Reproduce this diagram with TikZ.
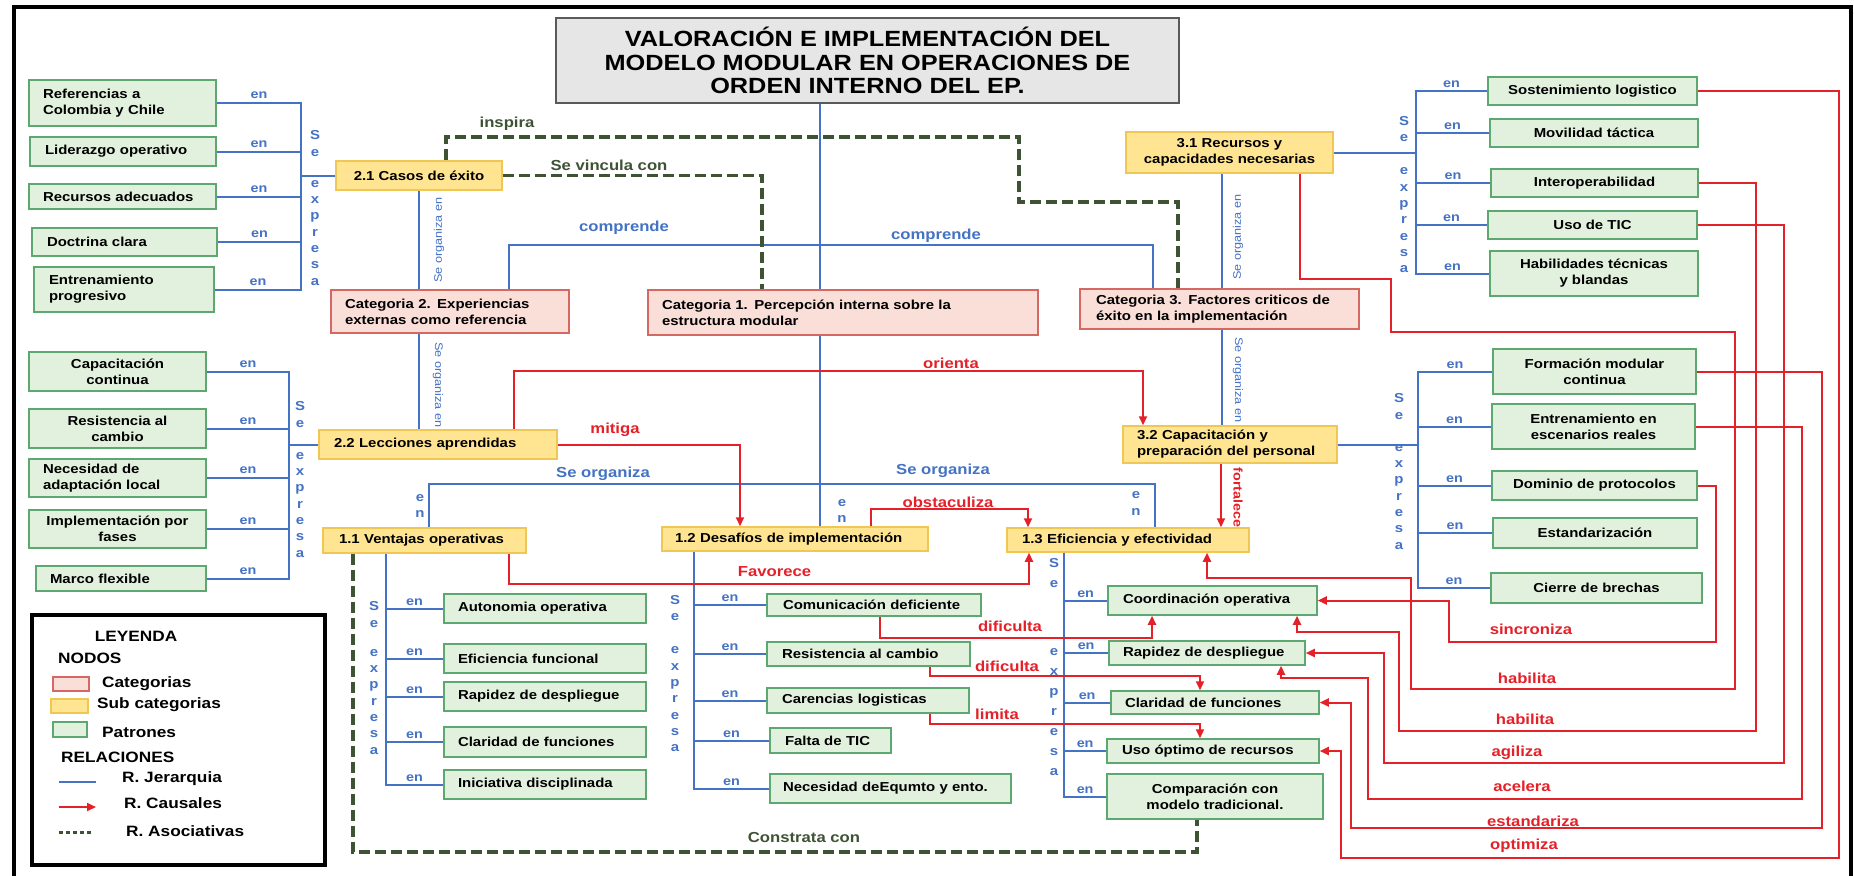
\documentclass[tikz,border=0pt]{standalone}
\usepackage{fontspec}
\setmainfont{Liberation Sans}[FakeStretch=1.15]
\usetikzlibrary{arrows.meta}

\definecolor{jerblue}{RGB}{68,114,196}
\definecolor{caured}{RGB}{228,32,40}
\definecolor{asogreen}{RGB}{62,82,52}
\definecolor{catfill}{RGB}{250,222,216}
\definecolor{catdraw}{RGB}{214,104,100}
\definecolor{subfill}{RGB}{255,229,145}
\definecolor{subdraw}{RGB}{240,198,85}
\definecolor{patfill}{RGB}{226,240,222}
\definecolor{patdraw}{RGB}{92,168,112}
\definecolor{titfill}{RGB}{231,230,230}
\definecolor{titdraw}{RGB}{90,90,90}

\tikzset{
  box/.style={rectangle, inner sep=0pt, line width=1.5pt, font=\fontsize{13}{16}\selectfont\bfseries},
  cat/.style={box, fill=catfill, draw=catdraw},
  sub/.style={box, fill=subfill, draw=subdraw},
  pat/.style={box, fill=patfill, draw=patdraw},
  title/.style={rectangle, inner sep=0pt, fill=titfill, draw=titdraw, line width=2.5pt, align=center, font=\fontsize{22}{23.5}\selectfont\bfseries},
  wh/.style 2 args={minimum width=#1pt, minimum height=#2pt},
  lt/.style={text width=#1pt, align=left},
  jer/.style={draw=jerblue, line width=2pt},
  cau/.style={draw=caured, line width=2pt, -{Triangle[length=9pt,width=8pt]}},
  aso/.style={draw=asogreen, line width=3.5pt, dash pattern=on 11pt off 5pt},
  enlab/.style={text=jerblue, inner sep=1pt, font=\fontsize{12.5}{14}\selectfont\bfseries},
  vlet/.style={text=jerblue, inner sep=0pt, align=center, font=\fontsize{13}{16.3}\selectfont\bfseries},
  rlab/.style={text=jerblue, inner sep=0pt, font=\fontsize{11}{13}\selectfont},
  jlab/.style={text=jerblue, inner sep=0pt, font=\fontsize{14.5}{16}\selectfont\bfseries},
  clab/.style={text=caured, inner sep=0pt, font=\fontsize{14.5}{16}\selectfont\bfseries},
  alab/.style={text=asogreen, inner sep=0pt, font=\fontsize{14.5}{16}\selectfont\bfseries},
  legf/.style={inner sep=0pt, font=\fontsize{15}{17}\selectfont\bfseries}
}

\begin{document}
\begin{tikzpicture}[x=1pt, y=-1pt]
    \useasboundingbox (0,0) rectangle (1854,875);
    \fill[white] (0,0) rectangle (1854,875);
    \draw[line width=4pt] (14,880) -- (14,7) -- (1851,7) -- (1851,880);

    % Define nodes
    \node[title, wh={623}{85}] (title) at (867.5,60.5) {VALORACIÓN E IMPLEMENTACIÓN DEL\\MODELO MODULAR EN OPERACIONES DE\\ORDEN INTERNO DEL EP.};

    % categorias
    \node[cat, wh={238}{43}, lt=210] (cat2) at (450,311.5) {Categoria 2. Experiencias\\externas como referencia};
    \node[cat, wh={390}{45}, lt=362] (cat1) at (843,312.5) {Categoria 1. Percepción interna sobre la\\estructura modular};
    \node[cat, wh={279}{40}, lt=247] (cat3) at (1219.5,309) {Categoria 3. Factores criticos de\\éxito en la implementación};

    % sub categorias
    \node[sub, wh={166}{29}] (casos) at (419,175.5) {2.1 Casos de éxito};
    \node[sub, wh={238}{29}, lt=208] (lecc) at (438,444.5) {2.2 Lecciones aprendidas};
    \node[sub, wh={203}{25}, lt=171] (vent) at (424.5,540.5) {1.1 Ventajas operativas};
    \node[sub, wh={266}{24}, lt=240] (desaf) at (795,539) {1.2 Desafíos de implementación};
    \node[sub, wh={242}{24}, lt=212] (efic) at (1128,540) {1.3 Eficiencia y efectividad};
    \node[sub, wh={207}{41}, align=center] (recur) at (1229.5,152.5) {3.1 Recursos y\\capacidades necesarias};
    \node[sub, wh={214}{37}, lt=186] (capac) at (1230,444.5) {3.2 Capacitación y\\preparación del personal};

    % patrones 2.1
    \node[pat, wh={187}{46}, lt=159] (refcol) at (122.5,103) {Referencias a\\Colombia y Chile};
    \node[pat, wh={186}{29}, lt=156] (lider) at (123,151.5) {Liderazgo operativo};
    \node[pat, wh={187}{25}, lt=159] (recad) at (122.5,196.5) {Recursos adecuados};
    \node[pat, wh={185}{28}, lt=155] (doctr) at (124.5,242) {Doctrina clara};
    \node[pat, wh={180}{45}, lt=150] (entrp) at (124,289.5) {Entrenamiento\\progresivo};

    % patrones 2.2
    \node[pat, wh={177}{39}, align=center] (capco) at (117.5,371.5) {Capacitación\\continua};
    \node[pat, wh={177}{39}, align=center] (resis1) at (117.5,428.5) {Resistencia al\\cambio};
    \node[pat, wh={177}{38}, lt=149] (necad) at (117.5,478) {Necesidad de\\adaptación local};
    \node[pat, wh={177}{38}, align=center] (implf) at (117.5,529) {Implementación por\\fases};
    \node[pat, wh={170}{25}, lt=142] (marco) at (121,578.5) {Marco flexible};

    % patrones 1.1
    \node[pat, wh={202}{29}, lt=174] (auton) at (545,608.5) {Autonomia operativa};
    \node[pat, wh={202}{29}, lt=174] (eficf) at (545,658.5) {Eficiencia funcional};
    \node[pat, wh={202}{29}, lt=174] (rapid1) at (545,696.5) {Rapidez de despliegue};
    \node[pat, wh={202}{30}, lt=174] (clar1) at (545,742) {Claridad de funciones};
    \node[pat, wh={202}{29}, lt=174] (inic) at (545,784.5) {Iniciativa disciplinada};

    % patrones 1.2
    \node[pat, wh={214}{22}, lt=182] (comdef) at (874,605) {Comunicación deficiente};
    \node[pat, wh={203}{24}, lt=173] (resis2) at (868.5,654) {Resistencia al cambio};
    \node[pat, wh={202}{25}, lt=172] (caren) at (868,700.5) {Carencias logisticas};
    \node[pat, wh={121}{25}, lt=91] (falta) at (830.5,740.5) {Falta de TIC};
    \node[pat, wh={241}{29}, lt=215] (necequ) at (890.5,788.5) {Necesidad deEqumto y ento.};

    % patrones 1.3
    \node[pat, wh={209}{29}, lt=179] (coord) at (1212.5,600.5) {Coordinación operativa};
    \node[pat, wh={196}{24}, lt=168] (rapid2) at (1207,653) {Rapidez de despliegue};
    \node[pat, wh={208}{23}, lt=180] (clar2) at (1215,702.5) {Claridad de funciones};
    \node[pat, wh={212}{24}, lt=182] (usoopt) at (1213,751) {Uso óptimo de recursos};
    \node[pat, wh={216}{45}, align=center] (compar) at (1215,796.5) {Comparación con\\modelo tradicional.};

    % patrones 3.1
    \node[pat, wh={209}{28}] (sosten) at (1592.5,91) {Sostenimiento logistico};
    \node[pat, wh={208}{28}] (movil) at (1594,133) {Movilidad táctica};
    \node[pat, wh={207}{28}] (interop) at (1594.5,183) {Interoperabilidad};
    \node[pat, wh={209}{28}] (usotic) at (1592.5,225) {Uso de TIC};
    \node[pat, wh={208}{45}, align=center] (habil) at (1594,273.5) {Habilidades técnicas\\y blandas};

    % patrones 3.2
    \node[pat, wh={203}{45}, align=center] (formod) at (1594.5,371.5) {Formación modular\\continua};
    \node[pat, wh={203}{45}, align=center] (entren) at (1593.5,426.5) {Entrenamiento en\\escenarios reales};
    \node[pat, wh={205}{29}] (domin) at (1594.5,485.5) {Dominio de protocolos};
    \node[pat, wh={204}{30}] (estand) at (1595,533) {Estandarización};
    \node[pat, wh={211}{30}] (cierre) at (1596.5,588) {Cierre de brechas};

    % junctions
    \coordinate (tj) at ([xshift=-47.5pt]title.south);
    \coordinate (hubc) at (820,245);
    \coordinate (hubo) at (820,484);
    \coordinate (r31) at ([xshift=-7.5pt]recur.south);
    \coordinate (f32) at ([xshift=-9pt]capac.south);
    \coordinate (b21) at ([xshift=-34pt]casos.west);
    \coordinate (b22) at ([xshift=-29pt]lecc.west);
    \coordinate (b11) at ([xshift=-38.5pt]vent.south);
    \coordinate (b12) at ([xshift=-101pt]desaf.south);
    \coordinate (b13) at ([xshift=-64pt]efic.south);
    \coordinate (b31) at ([xshift=82pt]recur.east);
    \coordinate (b32) at ([xshift=80pt]capac.east);

    % Draw edges: jerarquia
    \draw[jer] (tj) -- (tj |- cat1.north);
    \draw[jer] ([xshift=59pt]cat2.north) |- (hubc) -| ([xshift=-66.5pt]cat3.north);
    \draw[jer] (tj |- cat1.south) -- (tj |- desaf.north);
    \draw[jer] ([xshift=4.5pt]vent.north) |- (hubo) -| ([xshift=27pt]efic.north);
    \draw[jer] (casos.south) -- (casos.south |- cat2.north);
    \draw[jer] (casos.south |- cat2.south) -- (casos.south |- lecc.north);
    \draw[jer] (r31) -- (r31 |- cat3.north);
    \draw[jer] (r31 |- cat3.south) -- (r31 |- capac.north);

    \draw[jer] (casos.west) -- (b21);
    \foreach \p in {refcol,lider,recad,doctr,entrp}
        \draw[jer] (\p.east) -| node[enlab, pos=.25, above=2pt] (en\p) {en} (b21);
    \draw[jer] (lecc.west) -- (b22);
    \foreach \p in {capco,resis1,necad,implf,marco}
        \draw[jer] (\p.east) -| node[enlab, pos=.25, above=2pt] (en\p) {en} (b22);
    \foreach \p in {auton,eficf,rapid1,clar1,inic}
        \draw[jer] (b11) |- node[enlab, pos=.75, above=1pt] (en\p) {en} (\p.west);
    \foreach \p in {comdef,resis2,caren,falta,necequ}
        \draw[jer] (b12) |- node[enlab, pos=.75, above=1pt] (en\p) {en} (\p.west);
    \foreach \p in {coord,rapid2,clar2,usoopt,compar}
        \draw[jer] (b13) |- node[enlab, pos=.75, above=1pt] (en\p) {en} (\p.west);
    \draw[jer] (recur.east) -- (b31);
    \foreach \p in {sosten,movil,interop,usotic,habil}
        \draw[jer] (b31) |- node[enlab, pos=.75, above=1pt] (en\p) {en} (\p.west);
    \draw[jer] (capac.east) -- (b32);
    \foreach \p in {formod,entren,domin,estand,cierre}
        \draw[jer] (b32) |- node[enlab, pos=.75, above=1pt] (en\p) {en} (\p.west);

    % Draw edges: causales
    \draw[cau] ([xshift=76pt]lecc.north) -- ++(0,-58) -| ([xshift=-87pt]capac.north);
    \draw[cau] (lecc.east) -| ([xshift=-55pt]desaf.north);
    \draw[cau] ([xshift=76pt]desaf.north) -- ++(0,-17) -| ([xshift=-100pt]efic.north);
    \draw[cau] ([xshift=84.5pt]vent.south) -- ++(0,30) -| ([xshift=-99pt]efic.south);
    \draw[cau] (f32) -- (f32 |- efic.north);
    \draw[cau] ([xshift=6pt]comdef.south) -- ++(0,21) -| ([xshift=-60.5pt]coord.south);
    \draw[cau] ([xshift=61.5pt]resis2.south) -- ++(0,9) -| ([xshift=-15pt]clar2.north);
    \draw[cau] ([xshift=62pt]caren.south) -- ++(0,10) -| ([xshift=-13pt]usoopt.north);
    \draw[cau] (domin.east) -| (1716,642) -- (1449,642) |- (coord.east);
    \draw[cau] ([xshift=70.5pt]recur.south) |- (1391,279) |- (1735,332) |- (1411,689) |- (1207,578) -- ([xshift=79pt]efic.south);
    \draw[cau] (interop.east) -| (1756,731) -| (1399,632) -| ([xshift=84.5pt]coord.south);
    \draw[cau] (usotic.east) -| (1784,763) -- (1384,763) |- (rapid2.east);
    \draw[cau] (entren.east) -| (1802,799) -- (1368,799) |- (1281,678) -- ([xshift=74pt]rapid2.south);
    \draw[cau] (formod.east) -| (1822,828) -- (1351,828) |- (clar2.east);
    \draw[cau] (sosten.east) -| (1839,858) -- (1341,858) |- (usoopt.east);

    % Draw edges: asociativas
    \draw[aso] ([xshift=27pt]casos.north) |- (1019,137) |- (1178,202) -- ([xshift=-41.5pt]cat3.north);
    \draw[aso] (casos.east) -| ([xshift=-81pt]cat1.north);
    \draw[aso] ([xshift=-71.5pt]vent.south) |- (1197,852) -- ([xshift=-18pt]compar.south);

    % Se expresa / en
    \node[vlet] (sx21) at (315,208) {S\\e\\[15pt]e\\x\\p\\r\\e\\s\\a};
    \node[vlet] (sx22) at (300,479.5) {S\\e\\[16pt]e\\x\\p\\r\\e\\s\\a};
    \node[vlet] (sx11) at (374,678) {S\\e\\[13pt]e\\x\\p\\r\\e\\s\\a};
    \node[vlet] (sx12) at (675,673.5) {S\\e\\[17pt]e\\x\\p\\r\\e\\s\\a};
    \node[vlet, font=\fontsize{13}{20}\selectfont\bfseries] (sx13) at (1054,667) {S\\e\\[48pt]e\\x\\p\\r\\e\\s\\a};
    \node[vlet] (sx31) at (1404,194.5) {S\\e\\[17pt]e\\x\\p\\r\\e\\s\\a};
    \node[vlet] (sx32) at (1399,471.5) {S\\e\\[16pt]e\\x\\p\\r\\e\\s\\a};
    \node[vlet] (en11) at (420,506) {e\\n};
    \node[vlet] (en12) at (842,511) {e\\n};
    \node[vlet] (en13) at (1136,503.5) {e\\n};

    % etiquetas de relaciones
    \node[rlab, rotate=90] (so21) at (439,240) {Se organiza en};
    \node[rlab, rotate=-90] (so22) at (438,385) {Se organiza en};
    \node[rlab, rotate=90] (so31) at (1238,237) {Se organiza en};
    \node[rlab, rotate=-90] (so32) at (1238,380) {Se organiza en};
    \node[clab, rotate=-90, font=\fontsize{12.5}{14}\selectfont\bfseries] (lfort) at (1238,497.5) {fortalece};
    \node[jlab] (lcomp1) at (624,228) {comprende};
    \node[jlab] (lcomp2) at (936,236) {comprende};
    \node[jlab] (lorg1) at (603,474) {Se organiza};
    \node[jlab] (lorg2) at (943,471) {Se organiza};
    \node[alab] (linsp) at (507,124) {inspira};
    \node[alab] (lvinc) at (609,165) {Se vincula con};
    \node[alab] (lcons) at (804,837) {Constrata con};
    \node[clab] (lori) at (951,363) {orienta};
    \node[clab] (lmit) at (615,430) {mitiga};
    \node[clab] (lobs) at (948,502) {obstaculiza};
    \node[clab] (lfav) at (774.5,572) {Favorece};
    \node[clab] (ldif1) at (1010,626) {dificulta};
    \node[clab] (ldif2) at (1007,666) {dificulta};
    \node[clab] (llim) at (997,714) {limita};
    \node[clab] (lsin) at (1531,629) {sincroniza};
    \node[clab] (lhab1) at (1527,678) {habilita};
    \node[clab] (lhab2) at (1525,719) {habilita};
    \node[clab] (lagi) at (1517,753) {agiliza};
    \node[clab] (lace) at (1522,786) {acelera};
    \node[clab] (lest) at (1533,821) {estandariza};
    \node[clab] (lopt) at (1524,846) {optimiza};

    % leyenda
    \node[draw, line width=4pt, inner sep=0pt, wh={293}{250}] (leg) at (178.5,740) {};
    \node[legf] (lleg) at (136,636) {LEYENDA};
    \node[legf, anchor=west] (lnod) at (58,658) {NODOS};
    \node[cat, wh={36}{14}] (kcat) at (71,684) {};
    \node[sub, wh={37}{14}] (ksub) at (69.5,706) {};
    \node[pat, wh={34}{15}] (kpat) at (70,729.5) {};
    \node[legf, anchor=west] (lcat) at (102,684) {Categorias};
    \node[legf, anchor=west] (lsub) at (97,705) {Sub categorias};
    \node[legf, anchor=west] (lpat) at (102,732) {Patrones};
    \node[legf, anchor=west] (lrel) at (61,757) {RELACIONES};
    \draw[jer] (59,782) -- (96,782);
    \node[legf, anchor=west] (ljer) at (122,779) {R. Jerarquia};
    \draw[cau] (59,807) -- (96,807);
    \node[legf, anchor=west] (lcau) at (124,803) {R. Causales};
    \draw[asogreen, line width=3pt, dash pattern=on 4pt off 3pt] (59,832) -- (93,832);
    \node[legf, anchor=west] (laso) at (126,831) {R. Asociativas};

\end{tikzpicture}
\end{document}
